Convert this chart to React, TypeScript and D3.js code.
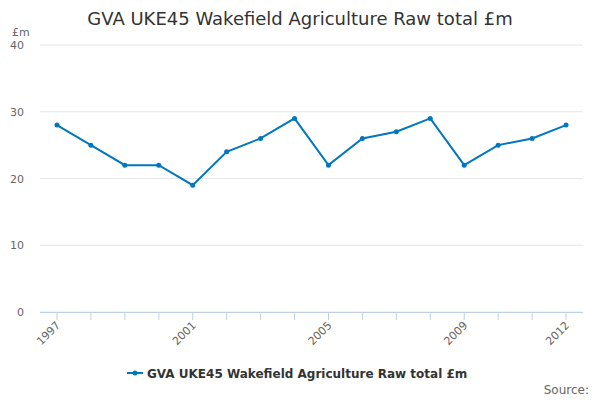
import * as d3 from "d3";

const years = ["1997","1998","1999","2000","2001","2002","2003","2004","2005","2006","2007","2008","2009","2010","2011","2012"];
const values = [28, 25, 22, 22, 19, 24, 26, 29, 22, 26, 27, 29, 22, 25, 26, 28];
const yTicks = [0, 10, 20, 30, 40];
const labelYears = ["1997", "2001", "2005", "2009", "2012"];
const seriesName = "GVA UKE45 Wakefield Agriculture Raw total £m";

const W = 600, H = 400;
const M = { left: 40, right: 583, top: 45, bottom: 312 };
const COLOR = "#0077be";
const FONT = "DejaVu Sans, sans-serif";

export default function App() {
  const x = d3.scalePoint<string>().domain(years).range([M.left, M.right]).padding(0.5);
  const y = d3.scaleLinear().domain([0, 40]).range([M.bottom, M.top]);
  const line = d3.line<number>().x((_, i) => x(years[i])!).y((d) => y(d));

  return (
    <svg width={W} height={H} style={{ position: "absolute", left: 0, top: 0, fontFamily: FONT }}>
      <text x={W / 2} y={25} textAnchor="middle" fontSize={18} fill="#333">{seriesName}</text>
      <text x={12} y={36} fontSize={11} fill="#666">£m</text>
      {yTicks.map((t) => (
        <g key={t}>
          <line x1={M.left} x2={M.right} y1={y(t)} y2={y(t)} stroke="#e6e6e6" />
          <text x={24} y={y(t) + 4} textAnchor="end" fontSize={11} fill="#666">{t}</text>
        </g>
      ))}
      <line x1={M.left} x2={M.right} y1={M.bottom + 0.5} y2={M.bottom + 0.5} stroke="#c0d0e0" />
      {years.map((yr) => (
        <line key={yr} x1={x(yr)} x2={x(yr)} y1={M.bottom} y2={M.bottom + 8} stroke="#c0d0e0" />
      ))}
      {labelYears.map((yr) => (
        <text key={yr} transform={`translate(${x(yr)! + 4},${M.bottom + 14}) rotate(-45)`}
          textAnchor="end" fontSize={11} fill="#666">{yr}</text>
      ))}
      <path d={line(values)!} fill="none" stroke={COLOR} strokeWidth={2} />
      {values.map((v, i) => (
        <circle key={i} cx={x(years[i])} cy={y(v)} r={2.5} fill={COLOR} />
      ))}
      <g transform="translate(127,373)">
        <line x1={0} x2={16} y1={0} y2={0} stroke={COLOR} strokeWidth={2} />
        <circle cx={8} cy={0} r={2.5} fill={COLOR} />
        <text x={20} y={4.5} fontSize={12} fontWeight="bold" fill="#333">{seriesName}</text>
      </g>
      <text x={589} y={394} textAnchor="end" fontSize={12} fill="#666">Source:</text>
    </svg>
  );
}
